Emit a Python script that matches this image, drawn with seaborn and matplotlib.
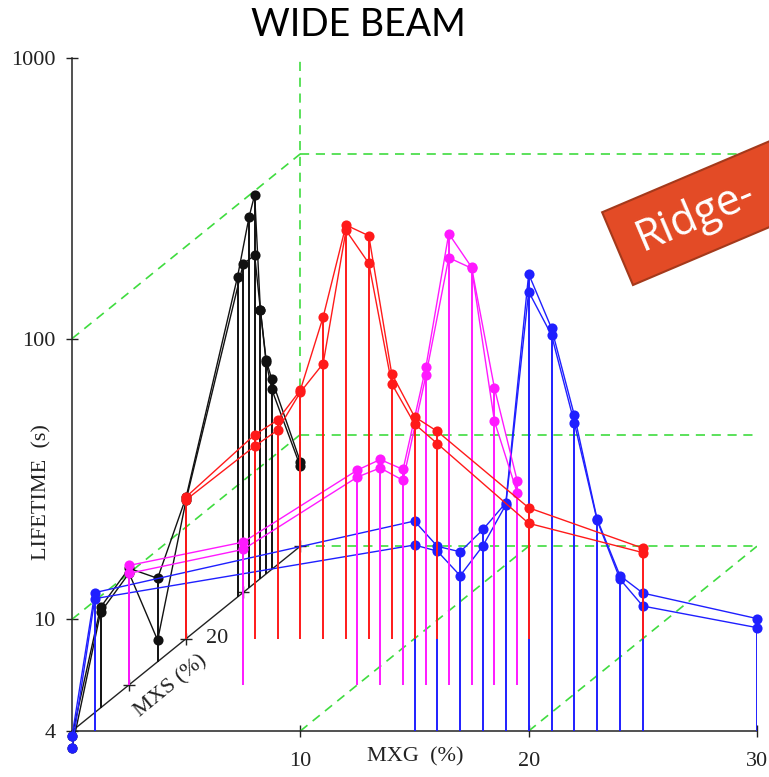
import numpy as np
import pandas as pd
import matplotlib
matplotlib.use("Agg")
import matplotlib.pyplot as plt
from matplotlib.patches import Rectangle
from matplotlib.transforms import IdentityTransform
import seaborn as sns

# ---------------- data ----------------
# black series: MXG = 0 %, MXS varies (two measurement traces)
black_mxs_a = [0, 5, 10, 15, 20, 29, 31, 32, 33, 34, 35, 40]
black_life_a = [3.84, 9.13, 10.4, 7.93, 12.8, 55.4, 83.5, 96.8, 36.3, 23.2, 19.0, 8.0]
black_mxs_b = [0, 5, 10, 15, 20, 30, 32, 33, 34, 35, 40]
black_life_b = [3.48, 8.76, 10.0, 4.77, 12.5, 59.2, 59.0, 36.3, 22.8, 17.5, 7.7]

# red series: MXS = 20 %, MXG varies
red_mxs = 20
red_mxg = [0, 3, 4, 5, 6, 7, 8, 9, 10, 11, 15, 20]
red_life_a = [12.8, 21.3, 24.0, 30.7, 56.0, 119, 109, 35.2, 24.7, 21.9, 11.7, 8.4]
red_life_b = [12.5, 19.4, 22.1, 30.2, 38.2, 114, 86.9, 32.4, 23.3, 19.8, 10.3, 8.1]

# magenta series: MXS = 10 %, MXG varies
mag_mxs = 10
mag_mxg = [0, 5, 10, 11, 12, 13, 14, 15, 16, 17]
mag_life_a = [10.65, 12.9, 23.3, 25.4, 23.4, 54.3, 162, 123, 45.7, 21.3]
mag_life_b = [9.98, 12.15, 22.0, 23.7, 21.4, 50.6, 133, 122, 34.8, 19.3]

# blue series: MXS = 0 %, MXG varies
blue_mxs = 0
blue_mxg = [0, 1, 15, 16, 17, 18, 19, 20, 21, 22, 23, 24, 25, 30]
blue_life_a = [3.83, 12.45, 22.4, 18.2, 17.4, 20.9, 26.0, 170, 109, 53.3, 22.7, 14.3, 12.4, 10.06]
blue_life_b = [3.47, 11.85, 18.4, 17.5, 14.3, 18.3, 25.6, 147, 103, 50.1, 22.5, 13.9, 11.15, 9.34]

# axis ticks / labels
y_ticks = [4, 10, 100, 1000]
y_tick_labels = ["4", "10", "100", "1000"]
x_ticks = [10, 20, 30]
x_tick_labels = ["10", "20", "30"]
mxs_ticks = [10, 20, 30, 40]
mxs_max = 40
mxg_max_back = 20
guide_life_front = [100, 10]
guide_life_back = [100, 10, 4]
guide_mxg_floor = [10, 20]

# ---------------- pseudo-3D projection ----------------
SHIFT_X = 0.25      # MXG units per MXS %
SHIFT_Y = 0.01646   # decades per MXS %


def proj(mxg, mxs, life):
    mxg = np.asarray(mxg, float)
    mxs = np.asarray(mxs, float)
    life = np.asarray(life, float)
    return mxg + SHIFT_X * mxs, life * 10 ** (SHIFT_Y * mxs)


rows = []
def add(series, trace, mxg, mxs, life):
    n = len(life)
    mxg = np.broadcast_to(np.asarray(mxg, float), (n,))
    mxs = np.broadcast_to(np.asarray(mxs, float), (n,))
    for g, s, l in zip(mxg, mxs, life):
        rows.append(dict(series=series, trace=trace, mxg=g, mxs=s, life=l))

add("black", "a", 0, black_mxs_a, black_life_a)
add("black", "b", 0, black_mxs_b, black_life_b)
add("blue", "a", blue_mxg, blue_mxs, blue_life_a)
add("blue", "b", blue_mxg, blue_mxs, blue_life_b)
add("magenta", "a", mag_mxg, mag_mxs, mag_life_a)
add("magenta", "b", mag_mxg, mag_mxs, mag_life_b)
add("red", "a", red_mxg, red_mxs, red_life_a)
add("red", "b", red_mxg, red_mxs, red_life_b)
df = pd.DataFrame(rows)
df["xp"], df["yp"] = proj(df["mxg"], df["mxs"], df["life"])

colors = {"black": "#111111", "red": "#ff1a1a", "magenta": "#ff19ff", "blue": "#1f1fff"}
zorders = {"black": 3, "blue": 4, "magenta": 5, "red": 6}
GREEN = "#3fdc3f"

# ---------------- figure ----------------
sns.set_theme(style="white")
plt.rcParams["font.family"] = ["Liberation Serif", "DejaVu Serif"]

W, H = 769, 777
fig = plt.figure(figsize=(W / 100, H / 100), dpi=100)
ax = fig.add_axes([72 / W, 46 / H, (757 - 72) / W, (731 - 58) / H])
ax.set_yscale("log")
ax.set_xlim(0, 30)
ax.set_ylim(4, 1000)

dash = (0, (5.5, 4))
# green guide box
for L in guide_life_front:
    x, y = proj([0, 0], [0, mxs_max], [L, L])
    ax.plot(x, y, color=GREEN, lw=1.2, ls=dash, zorder=1)
for L in guide_life_back:
    x, y = proj([0, mxg_max_back], [mxs_max, mxs_max], [L, L])
    ax.plot(x, y, color=GREEN, lw=1.2, ls=dash, zorder=1)
for g in guide_mxg_floor:
    x, y = proj([g, g], [0, mxs_max], [4, 4])
    ax.plot(x, y, color=GREEN, lw=1.2, ls=dash, zorder=1)
xb, yb = proj([0], [mxs_max], [4])
ax.plot([xb[0], xb[0]], [yb[0], ax.get_ylim()[1]], color=GREEN, lw=1.2, ls=dash, zorder=1)

# MXS oblique axis
x, y = proj([0, 0], [0, mxs_max], [4, 4])
ax.plot(x, y, color="#222222", lw=1.0, zorder=2, clip_on=False)
x, y = proj(np.zeros(len(mxs_ticks)), mxs_ticks, np.full(len(mxs_ticks), 4))
ax.plot(x, y, ls="none", marker="+", ms=9, mew=1.0, color="#222222", zorder=2)
xt, yt = proj([0], [20], [4])
ax.annotate("20", (xt[0], yt[0]), xytext=(31, 0), textcoords="offset pixels",
            ha="center", va="center", fontsize=16, color="#222222")
xm, ym = proj([0], [17.4], [4])
ax.annotate("MXS (%)", (xm[0], ym[0]), xytext=(0, -36), textcoords="offset pixels",
            ha="center", va="center", rotation=39.3, rotation_mode="anchor",
            fontsize=16, color="#222222")

# drop lines
for name, grp in df.groupby("series"):
    top = grp.groupby(["mxg", "mxs"])["life"].max().reset_index()
    x, y_top = proj(top["mxg"], top["mxs"], top["life"])
    _, y_base = proj(top["mxg"], top["mxs"], np.full(len(top), 4))
    ax.vlines(x, y_base, y_top, colors=colors[name], lw=1.4, zorder=zorders[name])

# series traces
for (name, trace), grp in df.groupby(["series", "trace"], sort=False):
    sns.lineplot(x=grp["xp"].values, y=grp["yp"].values, ax=ax, color=colors[name],
                 sort=False, estimator=None, marker="o", markersize=7.3,
                 markeredgewidth=0, linewidth=1.0, clip_on=False,
                 zorder=zorders[name] + 0.5, legend=False)

# axes styling
for side in ["top", "right"]:
    ax.spines[side].set_visible(False)
for side in ["left", "bottom"]:
    ax.spines[side].set_color("#222222")
    ax.spines[side].set_linewidth(1.1)
ax.set_yticks(y_ticks)
ax.set_yticklabels(y_tick_labels)
ax.set_xticks(x_ticks)
ax.set_xticklabels(x_tick_labels)
ax.minorticks_off()
ax.yaxis.set_minor_locator(matplotlib.ticker.NullLocator())
ax.tick_params(axis="both", direction="inout", length=8, width=1.0, color="#222222",
               labelsize=16, labelcolor="#222222", left=True, bottom=True)
ax.tick_params(axis="y", pad=8)
ax.tick_params(axis="x", pad=11)
for i, t in enumerate(ax.yaxis.get_major_ticks()):
    if y_ticks[i] in (10, 100):
        t.tick1line.set_color(GREEN)
for i, t in enumerate(ax.xaxis.get_major_ticks()):
    if x_ticks[i] == 10:
        t.tick1line.set_color(GREEN)
ax.set_xlabel("")
ax.set_ylabel("")
ax.grid(False)

fig.text(42 / W, 1 - 492 / H, "LIFETIME  (s)", rotation=90, ha="center", va="center",
         fontsize=16, color="#222222")
fig.text(415 / W, 1 - 757 / H, "MXG  (%)", ha="center", va="center",
         fontsize=16, color="#222222")
fig.text(358 / W, 1 - 25 / H, "WIDE BEAM", ha="center", va="center",
         fontsize=27, color="black", family=["Lato", "DejaVu Sans"])

# rotated callout box (runs off the right edge like the reference)
ang = 23.0
box = Rectangle((633, H - 285), 320, 79, angle=ang, transform=IdentityTransform(),
                facecolor="#e34b26", edgecolor="#a4391b", lw=1.5, zorder=10)
fig.patches.append(box)
c, s_ = np.cos(np.radians(ang)), np.sin(np.radians(ang))
mx, my = 633 - 39.5 * s_, (H - 285) + 39.5 * c
tx, ty = mx + 22 * c, my + 22 * s_
fig.text(tx / W, ty / H, "Ridge-", rotation=ang, rotation_mode="anchor",
         ha="left", va="center", fontsize=31, color="white",
         family=["Open Sans", "DejaVu Sans"], zorder=11)

fig.savefig("out.png", dpi=100)
